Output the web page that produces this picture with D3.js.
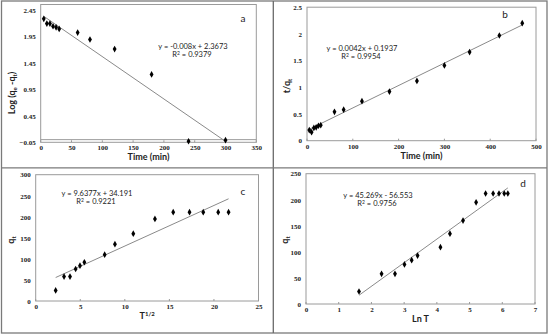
<!DOCTYPE html>
<html>
<head>
  <meta charset="utf-8">
  <script src="https://d3js.org/d3.v7.min.js"></script>
<style>
body { margin: 0; background: #fff; }
.tick-label { font-family: "Liberation Serif", serif; font-weight: bold; font-size: 7px; fill: #222; }
.ax-title { font-family: Lato, "Liberation Sans", sans-serif; font-weight: bold; font-size: 9px; fill: #222; }
.eq { font-family: Lato, "Liberation Sans", sans-serif; font-size: 7.5px; fill: #222; }
.tag { font-family: Lato, "Liberation Sans", sans-serif; font-size: 10px; fill: #222; }
</style>
</head>
<body>
<svg width="550" height="335"></svg>
<script>
// panel a: pseudo-first-order
var aTime = [5, 10, 15, 20, 25, 30, 60, 80, 120, 180, 240, 300];
var aLog = [2.28, 2.19, 2.19, 2.14, 2.12, 2.09, 2.02, 1.89, 1.71, 1.23, -0.03, -0.01];
// panel b: pseudo-second-order
var bTime = [5, 10, 15, 20, 25, 30, 60, 80, 120, 180, 240, 300, 355, 420, 470];
var bRatio = [0.20, 0.16, 0.24, 0.25, 0.28, 0.29, 0.54, 0.58, 0.74, 0.92, 1.12, 1.41, 1.66, 1.97, 2.20];
// panel c: intraparticle diffusion
var cSqrt = [2.24, 3.18, 3.85, 4.48, 4.97, 5.46, 7.74, 8.89, 10.95, 13.38, 15.43, 17.26, 18.8, 20.48, 21.64];
var cQ = [25, 58, 58, 76, 84, 92, 110, 135, 160, 195, 211, 211, 211, 211, 211];
// panel d: Elovich
var dLn = [1.62, 2.31, 2.72, 3.01, 3.23, 3.41, 4.11, 4.40, 4.80, 5.20, 5.49, 5.72, 5.90, 6.06, 6.17];
var dQ = [24, 58, 58, 76, 84, 93, 109, 135, 160, 195, 212, 212, 212, 212, 212];

var aTicksY = [-0.05, 0.45, 0.95, 1.45, 1.95, 2.45];
var aTicksX = [0, 50, 100, 150, 200, 250, 300, 350];
var bTicksY = [0, 0.5, 1, 1.5, 2, 2.5];
var bTicksX = [0, 100, 200, 300, 400, 500];
var cTicksY = [0, 50, 100, 150, 200, 250, 300];
var cTicksX = [0, 5, 10, 15, 20, 25];
var dTicksY = [0, 50, 100, 150, 200, 250];
var dTicksX = [0, 1, 2, 3, 4, 5, 6, 7];

var fits = {
  a: {m: -0.008, b: 2.3673, eq: "y = -0.008x + 2.3673", r2: "0.9379"},
  b: {m: 0.0042, b: 0.1937, eq: "y = 0.0042x + 0.1937", r2: "0.9954"},
  c: {m: 9.6377, b: 34.191, eq: "y = 9.6377x + 34.191", r2: "0.9221"},
  d: {m: 45.269, b: -56.553, eq: "y = 45.269x - 56.553", r2: "0.9756"}
};

var svg = d3.select("svg");

// panel borders
svg.append("rect").attr("x", 1.5).attr("y", 1).attr("width", 545.5).attr("height", 332)
  .attr("fill", "none").attr("stroke", "#7a7a7a").attr("stroke-width", 1.3);
svg.append("line").attr("x1", 273.3).attr("x2", 273.3).attr("y1", 1).attr("y2", 333)
  .attr("stroke", "#6a6a6a").attr("stroke-width", 1.3);
svg.append("line").attr("x1", 1.5).attr("x2", 547).attr("y1", 167.8).attr("y2", 167.8)
  .attr("stroke", "#7a7a7a").attr("stroke-width", 1.3);

function drawPanel(p) {
  var x = d3.scaleLinear().domain(p.xDom).range([p.left, p.right]);
  var y = d3.scaleLinear().domain(p.yDom).range([p.bottom, p.top]);
  var g = svg.append("g");

  g.append("rect")
    .attr("x", p.left).attr("y", p.top)
    .attr("width", p.right - p.left).attr("height", p.bottom - p.top)
    .attr("fill", "none").attr("stroke", "#9a9a9a").attr("stroke-width", 1);

  if (p.zeroLine) {
    g.append("line")
      .attr("x1", p.left).attr("x2", p.right)
      .attr("y1", y(0)).attr("y2", y(0))
      .attr("stroke", "#9a9a9a").attr("stroke-width", 1);
  }

  var xAxis = d3.axisBottom(x).tickValues(p.xTicks).tickSize(0).tickPadding(3)
    .tickFormat(d3.format("~g"));
  var yAxis = d3.axisLeft(y).tickValues(p.yTicks).tickSize(0).tickPadding(5)
    .tickFormat(p.yFmt || d3.format("~g"));

  var gx = g.append("g").attr("transform", "translate(0," + p.bottom + ")").call(xAxis);
  var gy = g.append("g").attr("transform", "translate(" + p.left + ",0)").call(yAxis);
  [gx, gy].forEach(function(ax) {
    ax.select(".domain").remove();
    ax.selectAll("text").attr("class", "tick-label").attr("fill", null);
  });

  // small inside tick marks on x axis
  g.selectAll(".xt").data(p.xTicks).enter().append("line")
    .attr("x1", function(d) { return x(d); }).attr("x2", function(d) { return x(d); })
    .attr("y1", p.bottom).attr("y2", p.bottom - 2)
    .attr("stroke", "#9a9a9a");

  // trendline over data range
  var f = fits[p.key];
  var x0 = d3.min(p.xs), x1 = d3.max(p.xs);
  g.append("line")
    .attr("x1", x(x0)).attr("y1", y(f.m * x0 + f.b))
    .attr("x2", x(x1)).attr("y2", y(f.m * x1 + f.b))
    .attr("stroke", "#8a8a8a").attr("stroke-width", 1);

  var sym = d3.symbol().type(d3.symbolDiamond).size(13);
  g.selectAll(".pt").data(p.xs).enter().append("path")
    .attr("d", sym)
    .attr("transform", function(d, i) { return "translate(" + x(d) + "," + y(p.ys[i]) + ")"; })
    .attr("fill", "#000");

  g.append("text").attr("class", "eq").attr("x", p.eqX).attr("y", p.eqY)
    .attr("text-anchor", "middle").text(f.eq);
  var r = g.append("text").attr("class", "eq").attr("x", p.eqX - 1).attr("y", p.eqY + 8)
    .attr("text-anchor", "middle");
  r.append("tspan").text("R");
  r.append("tspan").attr("dy", -2.5).attr("font-size", "5px").text("2");
  r.append("tspan").attr("dy", 2.5).text(" = " + f.r2);

  g.append("text").attr("class", "tag").attr("x", p.tagX).attr("y", p.tagY)
    .attr("text-anchor", "middle").text(p.key);

  // x title
  var xt = g.append("text").attr("class", "ax-title")
    .attr("x", (p.left + p.right) / 2).attr("y", p.bottom + 18).attr("text-anchor", "middle");
  p.xTitle.forEach(function(s) {
    xt.append("tspan").attr("dy", s.dy || 0).attr("font-size", s.fs || null).text(s.t);
  });
  // y title
  var yt = g.append("text").attr("class", "ax-title")
    .attr("transform", "translate(" + p.yTitleX + "," + p.yTitleY + ") rotate(-90)")
    .attr("text-anchor", "middle");
  p.yTitle.forEach(function(s) {
    yt.append("tspan").attr("dy", s.dy || 0).attr("font-size", s.fs || null).text(s.t);
  });
}

drawPanel({
  key: "a", xs: aTime, ys: aLog,
  xDom: [0, 350], yDom: [-0.05, 2.55],
  left: 40.7, right: 256.3, top: 4.5, bottom: 142.3,
  xTicks: aTicksX, yTicks: aTicksY, yFmt: d3.format(".2f"), zeroLine: true,
  eqX: 193, eqY: 49, tagX: 243, tagY: 22,
  xTitle: [{t: "Time (min)"}],
  yTitle: [{t: "Log (q"}, {t: "e", dy: 2, fs: "6px"}, {t: " -q", dy: -2}, {t: "t", dy: 2, fs: "6px"}, {t: ")", dy: -2}],
  yTitleX: 15, yTitleY: 93
});

drawPanel({
  key: "b", xs: bTime, ys: bRatio,
  xDom: [0, 500], yDom: [0, 2.5],
  left: 307, right: 536, top: 7.2, bottom: 140.7,
  xTicks: bTicksX, yTicks: bTicksY,
  eqX: 362, eqY: 51, tagX: 505, tagY: 18,
  xTitle: [{t: "Time (min)"}],
  yTitle: [{t: "t/q"}, {t: "t", dy: 2, fs: "6px"}],
  yTitleX: 290, yTitleY: 86
});

drawPanel({
  key: "c", xs: cSqrt, ys: cQ,
  xDom: [0, 25], yDom: [0, 300],
  left: 35.7, right: 258.5, top: 174.7, bottom: 301,
  xTicks: cTicksX, yTicks: cTicksY,
  eqX: 97, eqY: 196, tagX: 243, tagY: 195,
  xTitle: [{t: "T"}, {t: "1/2", dy: -3, fs: "6px"}],
  yTitle: [{t: "q"}, {t: "t", dy: 2, fs: "6px"}],
  yTitleX: 14, yTitleY: 240
});

drawPanel({
  key: "d", xs: dLn, ys: dQ,
  xDom: [0, 7], yDom: [0, 250],
  left: 306, right: 535, top: 173.7, bottom: 304,
  xTicks: dTicksX, yTicks: dTicksY,
  eqX: 378, eqY: 198, tagX: 523, tagY: 187,
  xTitle: [{t: "Ln T"}],
  yTitle: [{t: "q"}, {t: "t", dy: 2, fs: "6px"}],
  yTitleX: 288, yTitleY: 240
});
</script>
</body>
</html>
